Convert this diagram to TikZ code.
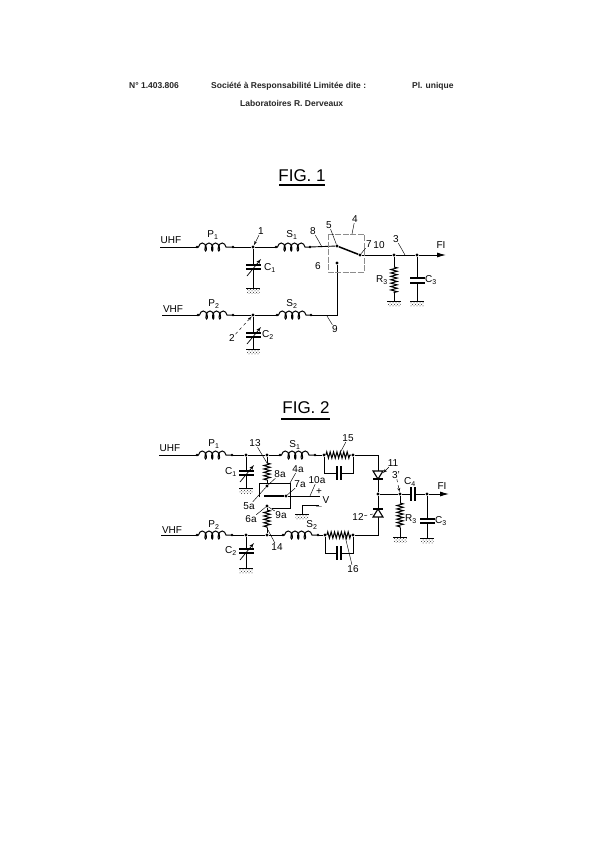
\documentclass[tikz,border=0pt]{standalone}
\usepackage{fontspec}
\setmainfont{Liberation Sans}
\usepackage{tikz}
\usetikzlibrary{arrows,arrows.meta}
\usetikzlibrary{patterns}
\usetikzlibrary{decorations.pathmorphing}
\tikzstyle{wire} = [draw, line width=0.9pt]
\tikzstyle{inductor} = [draw, line width=1pt, decorate, decoration={coil, aspect=0.55, segment length=6.6pt, amplitude=4pt, pre length=1.5pt, post length=1.5pt}]
\tikzstyle{resistor} = [draw, line width=1pt, decorate, decoration={zigzag, segment length=3.4pt, amplitude=3.2pt}]
\tikzstyle{dot} = [circle, fill=black, inner sep=0pt, minimum size=3.4pt]
\tikzstyle{hplate} = [rectangle, fill=black, inner sep=0pt, minimum width=15pt, minimum height=1.6pt]
\tikzstyle{vplate} = [rectangle, fill=black, inner sep=0pt, minimum width=1.6pt, minimum height=14pt]
\tikzstyle{ground} = [rectangle, inner sep=0pt, minimum width=13pt, minimum height=4pt, pattern=crosshatch dots, pattern color=black!80]
\tikzstyle{lab} = [inner sep=0.5pt, font=\fontsize{10}{11}\selectfont]
\tikzstyle{head} = [inner sep=0pt, font=\fontsize{8.5}{10}\selectfont\bfseries, text=black!85]
\tikzstyle{figtitle} = [inner sep=0pt, font=\fontsize{17}{19}\selectfont]
\tikzstyle{leader} = [draw, line width=0.45pt]
\tikzstyle{arrowline} = [draw, line width=0.9pt, -{Latex[length=9pt,width=5pt]}]
\tikzstyle{trim} = [draw, line width=0.7pt, -{latex'}]
\begin{document}
\begin{tikzpicture}[x=1pt,y=-1pt]
\useasboundingbox [fill=white] (0,0) rectangle (600,849);

% Header
	\node [head, anchor=west] (num) at (129,86) {N° 1.403.806};
	\node [head, anchor=west] (soc) at (211,86) {Société à Responsabilité Limitée dite :};
	\node [head, anchor=west] (pl) at (412,86) {Pl. unique};
	\node [head, anchor=west] (labo) at (240,103) {Laboratoires R. Derveaux};

% Place nodes: FIG. 1
	\node [figtitle] (figA) at (302,176) {FIG. 1};
	\draw [line width=1.2pt] (279,185) -- (325,185);
	\node [lab] (uhfA) at (171,240) {UHF};
	\node [lab] (vhfA) at (173,309) {VHF};
	\coordinate (uA) at (160,247);
	\coordinate (vA) at (162,315);
	\coordinate (pAa) at (197,247);
	\coordinate (pAb) at (233,247);
	\coordinate (sAa) at (276,247);
	\coordinate (sAb) at (310,247);
	\coordinate (pBa) at (198,315);
	\coordinate (pBb) at (233,315);
	\coordinate (sBa) at (277,315);
	\coordinate (sBb) at (311,315);
	\node [dot] (jA) at (253,247) {};
	\node [dot] (jB) at (253,315) {};
	\node [dot] (swA) at (337,246) {};
	\node [dot] (swB) at (337,263) {};
	\node [dot] (swC) at (360,255) {};
	\coordinate (cornerA) at (337,315);
	\node [dot] (jR) at (394,255) {};
	\node [dot] (jC) at (417,255) {};
	\coordinate (outA) at (446,255);
	\node [hplate] (cAa) at (253,265) {};
	\node [hplate] (cAb) at (253,269) {};
	\node [hplate] (cBa) at (253,333) {};
	\node [hplate] (cBb) at (253,337) {};
	\node [hplate] (cCa) at (417,278) {};
	\node [hplate] (cCb) at (417,283) {};
	\coordinate (rAa) at (394,267);
	\coordinate (rAb) at (394,293);
	\node [ground] (gA) at (253,291) {};
	\node [ground] (gB) at (253,352) {};
	\node [ground] (gC) at (394,304) {};
	\node [ground] (gD) at (417,304) {};
	\coordinate (boxTL) at (328,234);
	\coordinate (boxBR) at (364,272);

% Labels: FIG. 1
	\node [lab] (lpA) at (213,235) {P\textsubscript{1}};
	\node [lab] (lone) at (261,231) {1};
	\node [lab] (lsA) at (292,235) {S\textsubscript{1}};
	\node [lab] (leight) at (313,231) {8};
	\node [lab] (lfive) at (329,225) {5};
	\node [lab] (lfour) at (355,219) {4};
	\node [lab] (lseven) at (369,244) {7};
	\node [lab] (lten) at (379,245) {10};
	\node [lab] (lthree) at (396,239) {3};
	\node [lab] (lfi) at (441,245) {FI};
	\node [lab] (lsix) at (318,266) {6};
	\node [lab] (lcA) at (270,268) {C\textsubscript{1}};
	\node [lab] (lrA) at (382,280) {R\textsubscript{3}};
	\node [lab] (lcC) at (431,280) {C\textsubscript{3}};
	\node [lab] (lpB) at (214,304) {P\textsubscript{2}};
	\node [lab] (lsB) at (292,304) {S\textsubscript{2}};
	\node [lab] (ltwo) at (232,338) {2};
	\node [lab] (lcB) at (268,335) {C\textsubscript{2}};
	\node [lab] (lnine) at (335,329) {9};

% Draw edges: FIG. 1
	\path [wire] (uA) -- (pAa);
	\path [inductor] (pAa) -- (pAb);
	\path [wire] (pAb) -- (jA) -- (sAa);
	\path [inductor] (sAa) -- (sAb);
	\path [wire] (sAb) -- (swA);
	\path [draw, line width=1.5pt] (swA) -- (swC);
	\path [wire] (swC) -- (jR) -- (jC);
	\path [arrowline] (jC) -- (outA);
	\path [wire] (vA) -- (pBa);
	\path [inductor] (pBa) -- (pBb);
	\path [wire] (pBb) -- (jB) -- (sBa);
	\path [inductor] (sBa) -- (sBb);
	\path [wire] (sBb) -- (cornerA) -- (swB);
	\path [wire] (jA) -- (cAa);
	\path [wire] (cAb) -- (gA.north);
	\path [wire] (jB) -- (cBa);
	\path [wire] (cBb) -- (gB.north);
	\path [wire] (jC) -- (cCa);
	\path [wire] (cCb) -- (gD.north);
	\path [wire] (jR) -- (rAa);
	\path [resistor] (rAa) -- (rAb);
	\path [wire] (rAb) -- (gC.north);
	\path [trim] (cAb.center) ++(-6,7) -- ++(14,-17);
	\path [trim] (cBb.center) ++(-6,7) -- ++(14,-17);
	\draw [line width=0.4pt, black!45, dash pattern=on 6pt off 1.5pt] (boxTL) rectangle (boxBR);
	\foreach \g in {gA,gB,gC,gD}
		\draw [line width=0.8pt] (\g.north west) -- (\g.north east);
	\foreach \c in {pAa,pAb,sAa,sAb,pBa,pBb,sBa,sBb}
		\fill (\c) circle (1.3pt);
	\path [leader, -{latex'}] (lone) -- (jA);
	\path [leader] (leight) -- (322,247);
	\path [leader] (lfive) -- (swA);
	\path [leader] (lfour) -- (352,234);
	\path [leader] (lseven) -- (swC);
	\path [leader] (lthree) -- (405,255);
	\path [leader, dashed, -{latex'}] (ltwo) -- (jB);
	\path [leader] (lnine) -- (327,316);

% Place nodes: FIG. 2
	\node [figtitle] (figB) at (306,408) {FIG. 2};
	\draw [line width=1.2pt] (281,419) -- (330,419);
	\node [lab] (uhfB) at (170,448) {UHF};
	\node [lab] (vhfB) at (172,530) {VHF};
	\coordinate (uB) at (159,455);
	\coordinate (vB) at (161,535);
	\coordinate (pCa) at (197,455);
	\coordinate (pCb) at (232,455);
	\coordinate (sCa) at (280,455);
	\coordinate (sCb) at (315,455);
	\coordinate (pDa) at (197,535);
	\coordinate (pDb) at (232,535);
	\coordinate (sDa) at (283,535);
	\coordinate (sDb) at (318,535);
	\node [dot] (jD) at (246,455) {};
	\node [dot] (jE) at (267,455) {};
	\node [dot] (jF) at (324,455) {};
	\node [dot] (jG) at (353,455) {};
	\node [dot] (jH) at (246,535) {};
	\node [dot] (jI) at (267,535) {};
	\node [dot] (jJ) at (325,535) {};
	\node [dot] (jK) at (353,535) {};
	\coordinate (cornerB) at (378,455);
	\coordinate (cornerC) at (378,535);
	\node [dot] (jL) at (378,494) {};
	\node [dot] (jM) at (400,494) {};
	\node [dot] (jN) at (427,494) {};
	\coordinate (outB) at (449,494);
	\node [hplate] (cDa) at (246,471) {};
	\node [hplate] (cDb) at (246,475) {};
	\node [hplate] (cEa) at (246,549) {};
	\node [hplate] (cEb) at (246,553) {};
	\node [hplate] (cFa) at (427,519) {};
	\node [hplate] (cFb) at (427,523) {};
	\node [vplate] (cGa) at (337,473) {};
	\node [vplate] (cGb) at (341,473) {};
	\node [vplate] (cHa) at (337,553) {};
	\node [vplate] (cHb) at (341,553) {};
	\node [vplate] (cIa) at (411,494) {};
	\node [vplate] (cIb) at (415,494) {};
	\coordinate (cGl) at (324,473);
	\coordinate (cGr) at (353,473);
	\coordinate (cHl) at (325,553);
	\coordinate (cHr) at (353,553);
	\coordinate (rBa) at (267,463);
	\coordinate (rBb) at (267,480);
	\coordinate (rCa) at (267,510);
	\coordinate (rCb) at (267,528);
	\coordinate (rDa) at (400,503);
	\coordinate (rDb) at (400,528);
	\node [dot] (swD) at (267,486) {};
	\node [dot] (swE) at (267,506) {};
	\node [dot] (swF) at (286,496) {};
	\coordinate (bladeB) at (264,496);
	\coordinate (outV) at (320,496);
	\coordinate (tapG) at (319,505);
	\coordinate (tapH) at (302,505);
	\coordinate (boxA) at (259,497);
	\coordinate (boxB) at (259,483);
	\coordinate (boxC) at (290,483);
	\coordinate (boxD) at (290,508);
	\coordinate (boxE) at (272,508);
	\node [ground] (gE) at (246,491) {};
	\node [ground] (gF) at (246,571) {};
	\node [ground] (gG) at (400,540) {};
	\node [ground] (gH) at (427,541) {};
	\node [ground] (gI) at (302,517) {};

% Labels: FIG. 2
	\node [lab] (lpC) at (214,444) {P\textsubscript{1}};
	\node [lab] (lthirt) at (255,443) {13};
	\node [lab] (lsC) at (295,445) {S\textsubscript{1}};
	\node [lab] (lfift) at (348,438) {15};
	\node [lab] (lcD) at (231,472) {C\textsubscript{1}};
	\node [lab] (leighta) at (280,474) {8a};
	\node [lab] (lfoura) at (298,469) {4a};
	\node [lab] (lsevena) at (300,484) {7a};
	\node [lab] (ltena) at (317,480) {10a};
	\node [lab] (lfivea) at (249,506) {5a};
	\node [lab] (lsixa) at (251,519) {6a};
	\node [lab] (lninea) at (281,515) {9a};
	\node [lab] (lfourt) at (277,547) {14};
	\node [lab] (lsD) at (312,525) {S\textsubscript{2}};
	\node [lab] (lelev) at (393,463) {11};
	\node [lab] (lthreep) at (396,475) {3'};
	\node [lab] (lcI) at (410,482) {C\textsubscript{4}};
	\node [lab] (lfiB) at (442,486) {FI};
	\node [lab] (lrD) at (411,519) {R\textsubscript{3}};
	\node [lab] (lcF) at (441,521) {C\textsubscript{3}};
	\node [lab] (ltwelve) at (358,517) {12};
	\node [lab] (lsixt) at (353,569) {16};
	\node [lab] (lpD) at (214,525) {P\textsubscript{2}};
	\node [lab] (lcE) at (231,551) {C\textsubscript{2}};
	\node [lab] (lplus) at (319,491.5) {+};
	\node [lab] (lV) at (326,500) {V};
	\node [lab] (lminus) at (319,507) {$-$};

% Draw edges: FIG. 2
	\path [wire] (uB) -- (pCa);
	\path [inductor] (pCa) -- (pCb);
	\path [wire] (pCb) -- (jD) -- (jE) -- (sCa);
	\path [inductor] (sCa) -- (sCb);
	\path [wire] (sCb) -- (jF);
	\path [resistor] (jF) -- (jG);
	\path [wire] (jG) -- (cornerB) -- (jL) -- (cornerC) -- (jK);
	\path [wire] (jF) -- (cGl) -- (cGa);
	\path [wire] (cGb) -- (cGr) -- (jG);
	\path [wire] (vB) -- (pDa);
	\path [inductor] (pDa) -- (pDb);
	\path [wire] (pDb) -- (jH) -- (jI) -- (sDa);
	\path [inductor] (sDa) -- (sDb);
	\path [wire] (sDb) -- (jJ);
	\path [resistor] (jJ) -- (jK);
	\path [wire] (jJ) -- (cHl) -- (cHa);
	\path [wire] (cHb) -- (cHr) -- (jK);
	\path [wire] (jD) -- (cDa);
	\path [wire] (cDb) -- (gE.north);
	\path [wire] (jH) -- (cEa);
	\path [wire] (cEb) -- (gF.north);
	\path [trim] (cDb.center) ++(-6,7) -- ++(14,-17);
	\path [trim] (cEb.center) ++(-6,7) -- ++(14,-17);
	\path [wire] (jE) -- (rBa);
	\path [resistor] (rBa) -- (rBb);
	\path [wire] (rBb) -- (swD);
	\path [wire] (swE) -- (rCa);
	\path [resistor] (rCa) -- (rCb);
	\path [wire] (rCb) -- (jI);
	\path [draw, line width=1.5pt] (bladeB) -- (swF);
	\path [wire] (swF) -- (outV);
	\path [wire, line width=0.55pt] (boxA) -- (boxB) -- (boxC) -- (boxD) -- (boxE);
	\path [wire] (tapG) -- (tapH) -- (gI.north);
	\path [wire] (jL) -- (jM) -- (cIa);
	\path [wire] (cIb) -- (jN);
	\path [arrowline] (jN) -- (outB);
	\path [wire] (jM) -- (rDa);
	\path [resistor] (rDa) -- (rDb);
	\path [wire] (rDb) -- (gG.north);
	\path [wire] (jN) -- (cFa);
	\path [wire] (cFb) -- (gH.north);
	% diodes
	\filldraw [fill=white, line width=1.1pt] (373,471) -- (383,471) -- (378,479) -- cycle;
	\draw [line width=1.2pt] (373,479) -- (383,479);
	\filldraw [fill=white, line width=1.1pt] (373,517) -- (383,517) -- (378,509) -- cycle;
	\draw [line width=1.2pt] (373,509) -- (383,509);
	\foreach \g in {gE,gF,gG,gH,gI}
		\draw [line width=0.8pt] (\g.north west) -- (\g.north east);
	\foreach \c in {pCa,pCb,sCa,sCb,pDa,pDb,sDa,sDb}
		\fill (\c) circle (1.3pt);
	\path [leader] (lthirt) -- (rBa);
	\path [leader] (lfift) -- (340,453);
	\path [leader] (leighta) -- (swD);
	\path [leader] (lfoura) -- (boxC);
	\path [leader] (lsevena) -- (swF);
	\path [leader] (ltena) -- (310,496);
	\path [leader] (lfivea) -- (swD);
	\path [leader] (lsixa) -- (swE);
	\path [leader] (lninea) -- (swE);
	\path [leader] (lfourt) -- (268,530);
	\path [leader, -{latex'}] (lelev) -- (383,473);
	\path [leader, dashed, -{latex'}] (lthreep) -- (jM);
	\path [leader, dashed] (ltwelve) -- (373,514);
	\path [leader] (lsixt) -- (345,536);

\end{tikzpicture}
\end{document}
